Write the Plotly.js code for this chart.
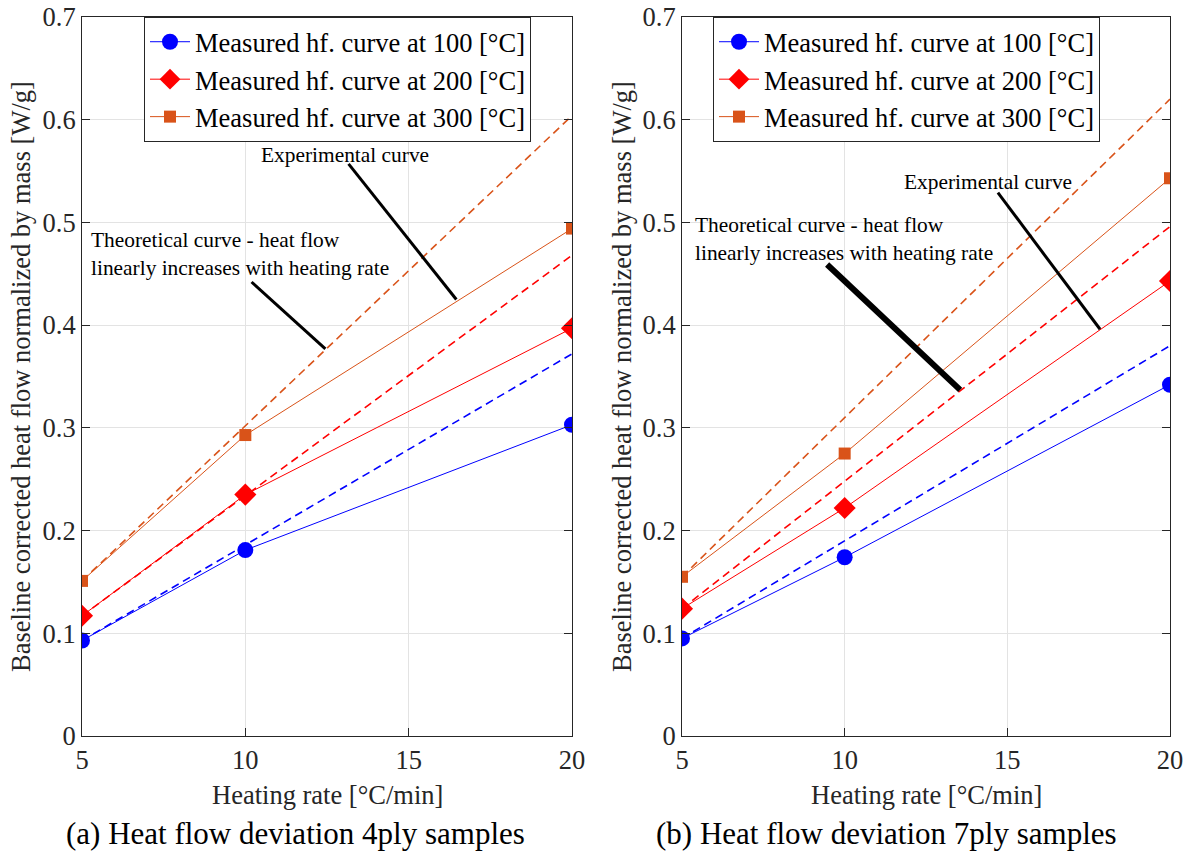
<!DOCTYPE html>
<html><head><meta charset="utf-8">
<script src="https://cdn.plot.ly/plotly-3.0.1.min.js"></script>
<style>body{margin:0;background:#fff}#chart{width:1190px;height:863px}</style>
</head><body><div id="chart"></div>
<script>
// ---- data ----
const rates = [5, 10, 20];
const seriesNames = ['Measured hf. curve at 100 [°C]', 'Measured hf. curve at 200 [°C]', 'Measured hf. curve at 300 [°C]'];
// 4ply (a)
const meas4_100 = [0.093, 0.181, 0.303];
const meas4_200 = [0.117, 0.235, 0.397];
const meas4_300 = [0.151, 0.293, 0.494];
const theo4_100 = [0.093, 0.186, 0.372];
const theo4_200 = [0.117, 0.234, 0.468];
const theo4_300 = [0.151, 0.302, 0.604];
// 7ply (b)
const meas7_100 = [0.095, 0.174, 0.342];
const meas7_200 = [0.124, 0.222, 0.443];
const meas7_300 = [0.155, 0.275, 0.543];
const theo7_100 = [0.095, 0.190, 0.380];
const theo7_200 = [0.124, 0.248, 0.496];
const theo7_300 = [0.155, 0.310, 0.620];
const xTicks = [5, 10, 15, 20];
const yTicks = [0, 0.1, 0.2, 0.3, 0.4, 0.5, 0.6, 0.7];
const yTickText = ['0', '0.1', '0.2', '0.3', '0.4', '0.5', '0.6', '0.7'];
// annotation pointers (data coords): [x0, y0, x1, y1]
const ptrExpA = [13.16, 0.557, 16.46, 0.425];
const ptrTheoA = [10.19, 0.442, 12.45, 0.377];
const ptrExpB = [14.71, 0.529, 17.85, 0.396];
const ptrTheoB = [9.46, 0.459, 13.55, 0.337];

const colors = ['#0000ff', '#ff0000', '#d95319'];
const symbols = ['circle', 'diamond', 'square'];
const msizes = [16, 17, 12];
const serif = '"Liberation Serif", "Times New Roman", serif';
const axFont = 26.5;

function panel(meas, theo, xa, ya, leg) {
  const tr = [];
  for (let i = 0; i < 3; i++) {
    tr.push({x: rates, y: theo[i], xaxis: xa, yaxis: ya, mode: 'lines', showlegend: false,
      line: {color: colors[i], width: 1.6, dash: '8px,5px'}, hoverinfo: 'skip'});
  }
  for (let i = 0; i < 3; i++) {
    tr.push({x: rates, y: meas[i], xaxis: xa, yaxis: ya, mode: 'lines+markers', name: seriesNames[i],
      legend: leg, line: {color: colors[i], width: 1},
      marker: {color: colors[i], symbol: symbols[i], size: msizes[i], line: {width: 0}}});
  }
  return tr;
}
const data = [].concat(
  panel([meas4_100, meas4_200, meas4_300], [theo4_100, theo4_200, theo4_300], 'x', 'y', 'legend'),
  panel([meas7_100, meas7_200, meas7_300], [theo7_100, theo7_200, theo7_300], 'x2', 'y2', 'legend2')
);

const axBase = {
  showline: true, linecolor: '#262626', linewidth: 1, mirror: 'ticks',
  ticks: 'inside', ticklen: 8, tickcolor: '#262626',
  showgrid: true, gridcolor: '#e3e3e3', gridwidth: 1, zeroline: false,
  tickfont: {family: serif, size: axFont, color: '#262626'}
};
const xa = Object.assign({}, axBase, {range: [5, 20], tickvals: xTicks, ticktext: xTicks.map(String)});
const ya = Object.assign({}, axBase, {range: [0, 0.7], tickvals: yTicks, ticktext: yTickText});

const yTop = 1 - 17 / 863, yBot = 1 - 736 / 863;
const txt = (o) => Object.assign({xref: 'paper', yref: 'paper', showarrow: false, xanchor: 'center', yanchor: 'middle'}, o);
const legBase = {xanchor: 'left', yanchor: 'top', bgcolor: '#fff', bordercolor: '#262626', borderwidth: 1,
  font: {family: serif, size: 26.5, color: '#000'}, tracegroupgap: 0, itemwidth: 40};
const layout = {
  width: 1190, height: 863, margin: {l: 0, r: 0, t: 0, b: 0},
  paper_bgcolor: '#fff', plot_bgcolor: '#fff',
  font: {family: serif},
  xaxis: Object.assign({}, xa, {domain: [82 / 1190, 572 / 1190], anchor: 'y'}),
  yaxis: Object.assign({}, ya, {domain: [yBot, yTop], anchor: 'x'}),
  xaxis2: Object.assign({}, xa, {domain: [682 / 1190, 1170 / 1190], anchor: 'y2'}),
  yaxis2: Object.assign({}, ya, {domain: [yBot, yTop], anchor: 'x2'}),
  legend: Object.assign({}, legBase, {x: 144 / 1190, y: yTop}),
  legend2: Object.assign({}, legBase, {x: 713 / 1190, y: yTop}),
  shapes: [
    {type: 'line', xref: 'x', yref: 'y', x0: ptrExpA[0], y0: ptrExpA[1], x1: ptrExpA[2], y1: ptrExpA[3], line: {color: '#000', width: 3}},
    {type: 'line', xref: 'x', yref: 'y', x0: ptrTheoA[0], y0: ptrTheoA[1], x1: ptrTheoA[2], y1: ptrTheoA[3], line: {color: '#000', width: 3}},
    {type: 'line', xref: 'x2', yref: 'y2', x0: ptrExpB[0], y0: ptrExpB[1], x1: ptrExpB[2], y1: ptrExpB[3], line: {color: '#000', width: 3}},
    {type: 'line', xref: 'x2', yref: 'y2', x0: ptrTheoB[0], y0: ptrTheoB[1], x1: ptrTheoB[2], y1: ptrTheoB[3], line: {color: '#000', width: 6}}
  ],
  annotations: [
    {xref: 'x', yref: 'y', x: 13.05, y: 0.566, text: 'Experimental curve', showarrow: false,
      xanchor: 'center', yanchor: 'middle', font: {family: serif, size: 21.4, color: '#000'}},
    {xref: 'x', yref: 'y', x: 5.21, y: 0.4694, xanchor: 'left', yanchor: 'middle', align: 'left',
      text: 'Theoretical curve - heat flow<br>linearly increases with heating rate', showarrow: false,
      font: {family: serif, size: 21.4, color: '#000'}},
    {xref: 'x2', yref: 'y2', x: 14.40, y: 0.539, text: 'Experimental curve', showarrow: false,
      xanchor: 'center', yanchor: 'middle', font: {family: serif, size: 21.4, color: '#000'}},
    {xref: 'x2', yref: 'y2', x: 5.34, y: 0.4836, xanchor: 'left', yanchor: 'middle', align: 'left',
      text: 'Theoretical curve - heat flow<br>linearly increases with heating rate', showarrow: false,
      font: {family: serif, size: 21.4, color: '#000'}},
    // axis titles
    txt({x: 327 / 1190, y: 1 - 795 / 863, text: 'Heating rate [°C/min]', font: {family: serif, size: axFont, color: '#262626'}}),
    txt({x: 926 / 1190, y: 1 - 795 / 863, text: 'Heating rate [°C/min]', font: {family: serif, size: axFont, color: '#262626'}}),
    txt({x: 21 / 1190, y: 1 - 377 / 863, textangle: -90,
      text: 'Baseline corrected heat flow normalized by mass [W/g]', font: {family: serif, size: axFont, color: '#262626'}}),
    txt({x: 622 / 1190, y: 1 - 377 / 863, textangle: -90,
      text: 'Baseline corrected heat flow normalized by mass [W/g]', font: {family: serif, size: axFont, color: '#262626'}}),
    // captions
    txt({x: 295 / 1190, y: 1 - 833 / 863, text: '(a) Heat flow deviation 4ply samples', font: {family: serif, size: 31, color: '#000'}}),
    txt({x: 886 / 1190, y: 1 - 833 / 863, text: '(b) Heat flow deviation 7ply samples', font: {family: serif, size: 31, color: '#000'}})
  ]
};
Plotly.newPlot('chart', data, layout, {displayModeBar: false, staticPlot: true});
</script></body></html>
